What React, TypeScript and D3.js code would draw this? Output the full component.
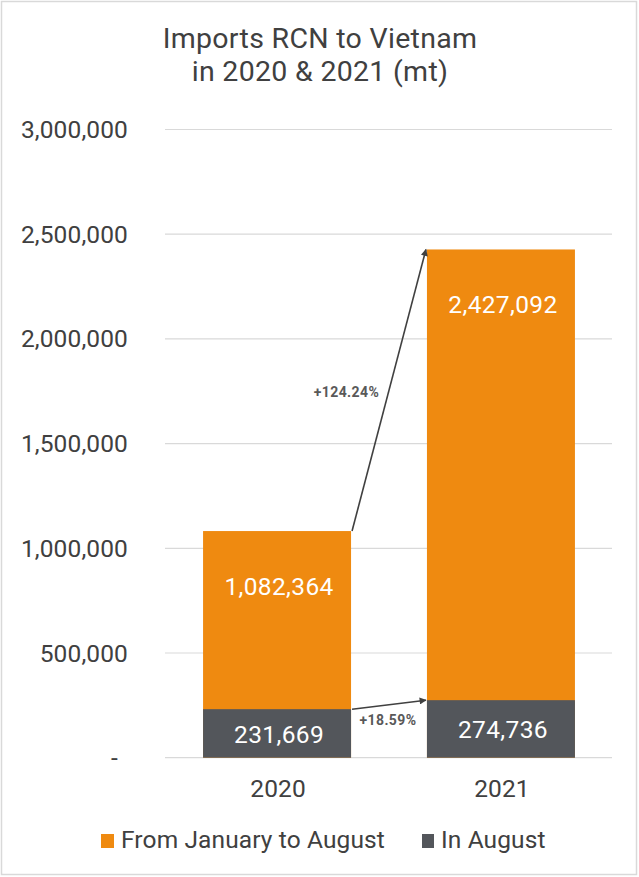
import React from "react";
import * as d3 from "d3";

const categories = ["2020", "2021"];
const janToAug = [1082364, 2427092];
const inAugust = [231669, 274736];
const yTicks = [0, 500000, 1000000, 1500000, 2000000, 2500000, 3000000];
const growthLabels = ["+124.24%", "+18.59%"];
const seriesNames = ["From January to August", "In August"];

const W = 639;
const H = 877;
const ORANGE = "#EF8A10";
const DARK = "#53565B";
const TEXT = "#404040";
const FONT = "Roboto, 'Open Sans', sans-serif";
const FS = 24.5;
const LS = 0.12;

export default function App() {
  const x = d3.scaleBand<string>().domain(categories).range([165, 613]).paddingInner(0.339).paddingOuter(0.17);
  const y = d3.scaleLinear().domain([0, 3000000]).range([757.7, 129.5]);
  const fmt = d3.format(",");
  const bw = x.bandwidth();

  const x0 = x(categories[0])! + bw;
  const x1 = x(categories[1])!;

  return (
    <svg width={W} height={H} style={{ position: "absolute", top: 0, left: 0, background: "#fff" }} fontFamily={FONT}>
      <defs>
        <marker id="arr" viewBox="0 0 10 10" refX="9" refY="5" markerWidth="8" markerHeight="7" orient="auto" markerUnits="userSpaceOnUse">
          <path d="M0,0 L10,5 L0,10 z" fill="#404040" />
        </marker>
      </defs>
      <rect x={1.5} y={1.5} width={W - 4} height={H - 4} fill="#fff" stroke="#d9d9d9" strokeWidth={1.5} />
      <text x={320} y={48} textAnchor="middle" fontSize={28.5} letterSpacing={0.3} fill={TEXT} fontWeight={400}>Imports RCN to Vietnam</text>
      <text x={320} y={81} textAnchor="middle" fontSize={28.5} letterSpacing={0.3} fill={TEXT} fontWeight={400}>in 2020 &amp; 2021 (mt)</text>

      {yTicks.map((t) => (
        <g key={t}>
          <line x1={165} x2={612} y1={y(t)} y2={y(t)} stroke="#d9d9d9" strokeWidth={1.2} />
          <text x={t === 0 ? 118 : 128} y={y(t)} dy="0.35em" textAnchor="end" fontSize={FS} letterSpacing={LS} fill={TEXT}>
            {t === 0 ? "-" : fmt(t)}
          </text>
        </g>
      ))}

      {categories.map((c, i) => (
        <g key={c}>
          <rect x={x(c)} y={y(janToAug[i])} width={bw} height={y(0) - y(janToAug[i])} fill={ORANGE} />
          <rect x={x(c)} y={y(inAugust[i])} width={bw} height={y(0) - y(inAugust[i])} fill={DARK} />
          <text x={x(c)! + bw / 2 + 2} y={y(janToAug[i]) + 64} textAnchor="middle" fontSize={FS} letterSpacing={0.35} fill="#fff">
            {fmt(janToAug[i])}
          </text>
          <text x={x(c)! + bw / 2 + 2} y={(y(inAugust[i]) + y(0)) / 2 + 9.5} textAnchor="middle" fontSize={FS} letterSpacing={0.35} fill="#fff">
            {fmt(inAugust[i])}
          </text>
          <text x={x(c)! + bw / 2 + 1} y={797} textAnchor="middle" fontSize={FS} letterSpacing={LS} fill={TEXT}>{c}</text>
        </g>
      ))}

      <line x1={x0 + 1} y1={y(janToAug[0])} x2={x1 - 1} y2={y(janToAug[1])} stroke="#404040" strokeWidth={1.6} markerEnd="url(#arr)" />
      <line x1={x0 + 1} y1={y(inAugust[0])} x2={x1 - 1} y2={y(inAugust[1])} stroke="#404040" strokeWidth={1.6} markerEnd="url(#arr)" />
      <text x={346.5} y={397} textAnchor="middle" fontSize={14} letterSpacing={0.4} fontWeight={700} fill="#595959">{growthLabels[0]}</text>
      <text x={388} y={725} textAnchor="middle" fontSize={14} letterSpacing={0.4} fontWeight={700} fill="#595959">{growthLabels[1]}</text>

      <rect x={101} y={834} width={13} height={14} fill={ORANGE} />
      <text x={121} y={848} fontSize={FS} letterSpacing={LS} fill={TEXT}>{seriesNames[0]}</text>
      <rect x={422} y={834} width={12} height={14} fill={DARK} />
      <text x={441} y={848} fontSize={FS} letterSpacing={LS} fill={TEXT}>{seriesNames[1]}</text>
    </svg>
  );
}
